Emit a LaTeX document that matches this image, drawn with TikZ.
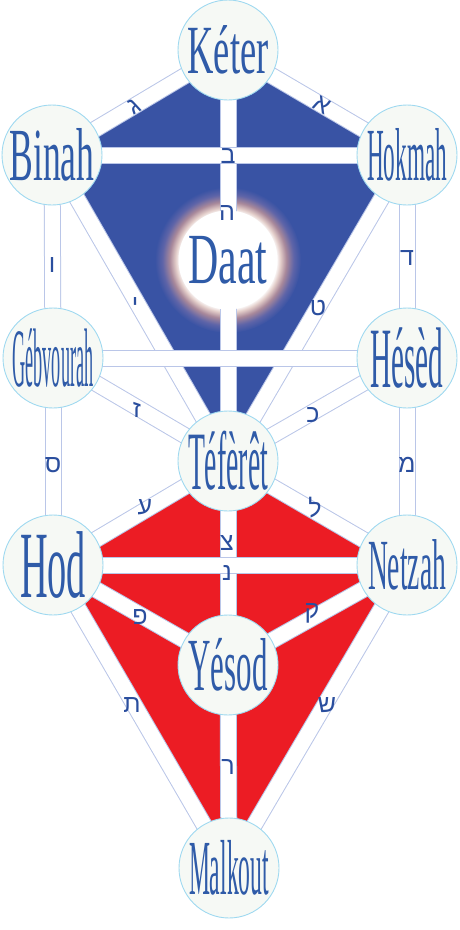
\documentclass[tikz,border=0pt]{standalone}
\usepackage{fontspec}
\usepackage{graphicx}
\usetikzlibrary{backgrounds}
\TeXXeTstate=1
\newfontfamily\sefirafont{Liberation Serif}
\newfontfamily\hebfont[Script=Hebrew]{Liberation Sans}
\definecolor{treeblue}{HTML}{3953A4}
\definecolor{treered}{HTML}{EC1C24}
\definecolor{nameblue}{HTML}{2F5BA8}
\definecolor{letterblue}{HTML}{2A4E9E}
\definecolor{chanline}{HTML}{BAC6E8}
\definecolor{sphereline}{HTML}{9FD9F0}
\definecolor{spherefill}{HTML}{F6F9F5}
\definecolor{glowtan}{HTML}{E2CCC8}
\definecolor{glowmid}{HTML}{A8889A}
\definecolor{glowout}{HTML}{5E64A8}
% the glow round Daat, 25bp = edge of the shaded circle
\pgfdeclareradialshading{daatglow}{\pgfpoint{0bp}{0bp}}{color(0bp)=(white); color(16.5bp)=(white); color(18bp)=(glowtan); color(20bp)=(glowmid); color(22.5bp)=(glowout); color(25bp)=(treeblue); color(50bp)=(treeblue)}
\newcommand{\sefname}[3]{{\fontsize{#1}{#1}\sefirafont\resizebox{#2}{\height}{#3}}}
\tikzset{
  sefira/.style={circle, minimum size=100pt, inner sep=0pt, fill=spherefill,
    draw=sphereline, line width=0.9pt, text=nameblue},
  channel/.style={draw=chanline, line width=1pt, double=white, double distance=15pt},
  letter/.style={inner sep=0pt, text=letterblue, font=\hebfont\fontsize{25}{25}\selectfont}
}
\begin{document}
\begin{tikzpicture}[x=1pt,y=-1pt]
  \useasboundingbox (0,0) rectangle (459,930);
  % the sefirot
  \node[sefira] (keter) at (228,50) {\sefname{69}{81pt}{Kéter}};
  \node[sefira] (binah) at (52,155) {\sefname{75}{85pt}{Binah}};
  \node[sefira] (hokmah) at (407,155) {\sefname{75}{80pt}{Hokmah}};
  \node[circle, minimum size=99pt, inner sep=0pt, fill=white, text=nameblue] (daat) at (228,260) {\sefname{72}{79pt}{Daat}};
  \node[sefira] (gebvourah) at (53,358) {\sefname{83}{81pt}{Gébvourah}};
  \node[sefira] (hesed) at (407,358) {\sefname{86}{73pt}{Hésèd}};
  \node[sefira] (tiferet) at (228,461) {\sefname{83}{80pt}{Téfèrêt}};
  \node[sefira] (hod) at (53,565) {\sefname{95}{66pt}{Hod}};
  \node[sefira] (netzah) at (407,565) {\sefname{72}{78pt}{Netzah}};
  \node[sefira] (yesod) at (228,665) {\sefname{75}{79pt}{Yésod}};
  \node[sefira] (malkout) at (229,868) {\sefname{78}{80pt}{Malkout}};

  \begin{scope}[on background layer]
    \fill[treeblue] (keter.center) -- (binah.center) -- (tiferet.center) -- (hokmah.center) -- cycle;
    \fill[treered] (tiferet.center) -- (hod.center) -- (malkout.center) -- (netzah.center) -- cycle;
    \shade[shading=daatglow] (daat.center) circle (73);
    % diagonal paths
    \draw[channel] (keter.center) -- (binah.center);
    \draw[channel] (keter.center) -- (hokmah.center);
    \draw[channel] (binah.center) -- (tiferet.center);
    \draw[channel] (hokmah.center) -- (tiferet.center);
    \draw[channel] (gebvourah.center) -- (tiferet.center);
    \draw[channel] (hesed.center) -- (tiferet.center);
    \draw[channel] (tiferet.center) -- (hod.center);
    \draw[channel] (tiferet.center) -- (netzah.center);
    \draw[channel] (hod.center) -- (yesod.center);
    \draw[channel] (netzah.center) -- (yesod.center);
    \draw[channel] (hod.center) -- (malkout.center);
    \draw[channel] (netzah.center) -- (malkout.center);
    % vertical paths
    \draw[channel] (binah.center) -- (gebvourah.center);
    \draw[channel] (gebvourah.center) -- (hod.center);
    \draw[channel] (hokmah.center) -- (hesed.center);
    \draw[channel] (hesed.center) -- (netzah.center);
    \draw[channel] (keter.center) -- (daat.center);
    \draw[channel] (daat.center) -- (tiferet.center);
    \draw[channel] (tiferet.center) -- (yesod.center);
    \draw[channel] (yesod.center) -- (malkout.center);
    % horizontal paths
    \draw[channel] (binah.center) -- (hokmah.center);
    \draw[channel] (gebvourah.center) -- (hesed.center);
    \draw[channel] (hod.center) -- (netzah.center);
  \end{scope}

  % letters of the paths
  \node[letter, rotate=-30] (aleph) at (322,105) {\beginR א\endR};
  \node[letter] (beth) at (228,156) {\beginR ב\endR};
  \node[letter, rotate=30] (gimel) at (134,106) {\beginR ג\endR};
  \node[letter] (he) at (227,213) {\beginR ה\endR};
  \node[letter] (vav) at (52,265) {\beginR ו\endR};
  \node[letter] (daleth) at (407,258) {\beginR ד\endR};
  \node[letter] (yod) at (135,305) {\beginR י\endR};
  \node[letter] (teth) at (318,308) {\beginR ט\endR};
  \node[letter] (zayin) at (137,410) {\beginR ז\endR};
  \node[letter] (kaph) at (313,415) {\beginR כ\endR};
  \node[letter] (samekh) at (53,465) {\beginR ס\endR};
  \node[letter] (mem) at (407,465) {\beginR מ\endR};
  \node[letter] (ayin) at (145,507) {\beginR ע\endR};
  \node[letter] (lamed) at (315,508) {\beginR ל\endR};
  \node[letter] (tsade) at (227,543) {\beginR צ\endR};
  \node[letter] (nun) at (227,573) {\beginR נ\endR};
  \node[letter] (pe) at (140,617) {\beginR פ\endR};
  \node[letter] (qoph) at (312,613) {\beginR ק\endR};
  \node[letter] (tav) at (132,705) {\beginR ת\endR};
  \node[letter] (shin) at (327,705) {\beginR ש\endR};
  \node[letter] (resh) at (228,767) {\beginR ר\endR};
\end{tikzpicture}
\end{document}
